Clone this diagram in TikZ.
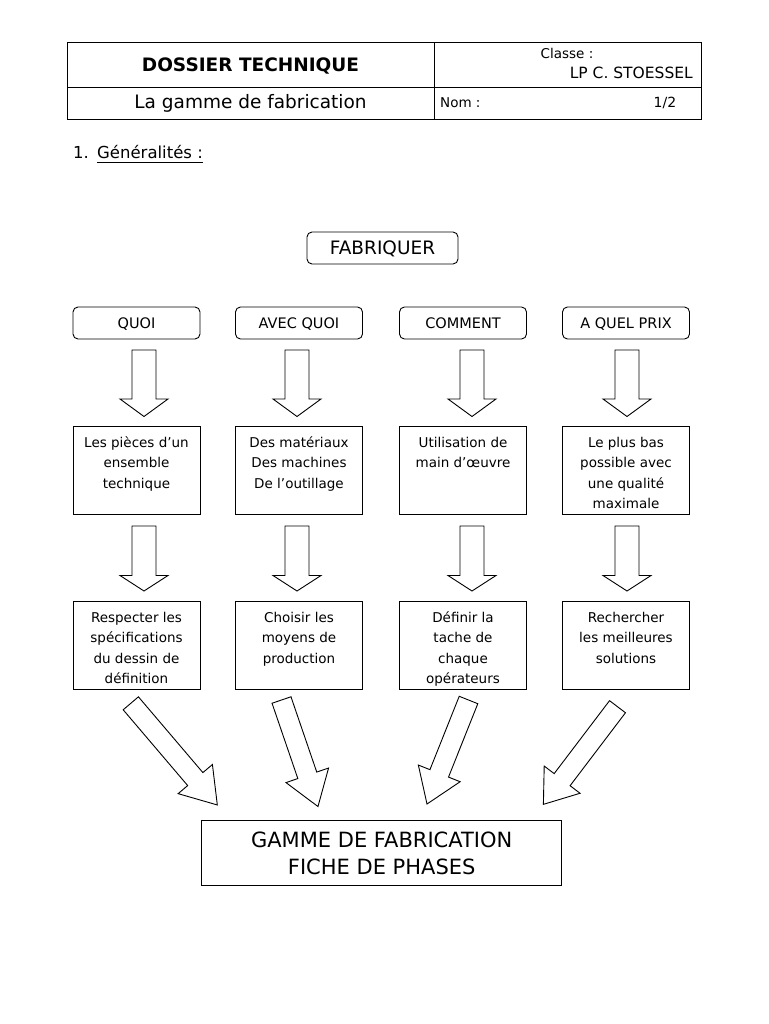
\documentclass[tikz,border=0pt]{standalone}
\usepackage{fontspec}
\setmainfont{DejaVu Sans}
\begin{document}
\begin{tikzpicture}[x=1pt,y=-1pt,
  box/.style={draw, line width=0.9pt, minimum width=127pt, inner sep=0pt},
  rbox/.style={box, rounded corners=5pt, minimum height=32pt, text height=10.5pt, text depth=0pt, font=\fontsize{14.5}{17}\selectfont},
  tbox/.style={box, minimum height=88pt},
  lbl/.style={inner sep=0pt, align=center, font=\fontsize{13.5}{20.5}\selectfont},
  hdr/.style={inner sep=0pt},
  bigarrow/.style={draw, fill=white, line width=0.9pt, line join=miter},
  pics/barrow/.style n args={4}{code={%
    \draw[bigarrow] (0pt,-#2) -- ({#1-#4},-#2) -- ({#1-#4},-#3) -- (#1,0pt)
      -- ({#1-#4},#3) -- ({#1-#4},#2) -- (0pt,#2) -- cycle;}}
]
\fill[white] (0,0) rectangle (768,1024);
\useasboundingbox (0,0) rectangle (768,1024);

% header table
\draw[line width=1pt] (67,43) rectangle (701,120);
\draw[line width=1pt] (67,88) -- (701,88);
\draw[line width=1pt] (434,43) -- (434,120);
\node[hdr, anchor=base, font=\bfseries\fontsize{18.5}{22}\selectfont] (dt) at (250.5,71.5) {DOSSIER TECHNIQUE};
\node[hdr, anchor=base, font=\fontsize{18.5}{22}\selectfont] (gf) at (250.5,109) {La gamme de fabrication};
\node[hdr, anchor=base, font=\fontsize{13.5}{15}\selectfont] (cl) at (567,59) {Classe :};
\node[hdr, anchor=base east, font=\fontsize{15.5}{17}\selectfont] (lp) at (693,79) {LP C. STOESSEL};
\node[hdr, anchor=base west, font=\fontsize{13.5}{15}\selectfont] (nom) at (440,108) {Nom :};
\node[hdr, anchor=base, font=\fontsize{14}{16}\selectfont] (pg) at (665,108) {1/2};

% section title
\node[hdr, anchor=base west, font=\fontsize{16.5}{19}\selectfont] (num) at (73,159) {1.};
\node[hdr, anchor=base west, font=\fontsize{16.5}{19}\selectfont] (gen) at (97,159) {Généralités :};
\draw[line width=0.9pt] ([yshift=-3.5pt]gen.base west) -- ([yshift=-3.5pt]gen.base east);

% FABRIQUER
\node[box, rounded corners=5pt, minimum width=151pt, minimum height=32pt, text height=13pt, text depth=0pt, font=\fontsize{18.5}{21}\selectfont] (fab) at (382.5,248) {FABRIQUER};

% row 1
\node[rbox] (q1) at (136.5,323) {QUOI};
\node[rbox] (q2) at (299,323) {AVEC QUOI};
\node[rbox] (q3) at (463,323) {COMMENT};
\node[rbox] (q4) at (626,323) {A QUEL PRIX};

% row 2
\node[tbox] (r1) at (136.5,470) {};
\node[tbox] (r2) at (299,470) {};
\node[tbox] (r3) at (463,470) {};
\node[tbox] (r4) at (626,470) {};
\node[lbl, anchor=north] (r1t) at ([yshift=-7pt]r1.north) {\strut Les pièces d’un\\ensemble\\technique};
\node[lbl, anchor=north] (r2t) at ([yshift=-7pt]r2.north) {\strut Des matériaux\\Des machines\\De l’outillage};
\node[lbl, anchor=north] (r3t) at ([yshift=-7pt]r3.north) {\strut Utilisation de\\main d’œuvre};
\node[lbl, anchor=north] (r4t) at ([yshift=-7pt]r4.north) {\strut Le plus bas\\possible avec\\une qualité\\maximale};

% row 3
\node[tbox] (s1) at (136.5,645) {};
\node[tbox] (s2) at (299,645) {};
\node[tbox] (s3) at (463,645) {};
\node[tbox] (s4) at (626,645) {};
\node[lbl, anchor=north] (s1t) at ([yshift=-7pt]s1.north) {\strut Respecter les\\spécifications\\du dessin de\\définition};
\node[lbl, anchor=north] (s2t) at ([yshift=-7pt]s2.north) {\strut Choisir les\\moyens de\\production};
\node[lbl, anchor=north] (s3t) at ([yshift=-7pt]s3.north) {\strut Définir la\\tache de\\chaque\\opérateurs};
\node[lbl, anchor=north] (s4t) at ([yshift=-7pt]s4.north) {\strut Rechercher\\les meilleures\\solutions};

% final box
\node[box, minimum width=360pt, minimum height=65pt, align=center, font=\fontsize{21}{27}\selectfont] (gm) at (381.7,853.3) {GAMME DE FABRICATION\\FICHE DE PHASES};

% vertical block arrows
\pic[rotate=-90] at (144,350) {barrow={66.5pt}{12pt}{24pt}{17.5pt}};
\pic[rotate=-90] at (297,350) {barrow={66.5pt}{12pt}{24pt}{17.5pt}};
\pic[rotate=-90] at (472,350) {barrow={66.5pt}{12pt}{24pt}{17.5pt}};
\pic[rotate=-90] at (627,350) {barrow={66.5pt}{12pt}{24pt}{17.5pt}};
\pic[rotate=-90] at (144,526) {barrow={65pt}{12pt}{24pt}{15.5pt}};
\pic[rotate=-90] at (297,526) {barrow={65pt}{12pt}{24pt}{15.5pt}};
\pic[rotate=-90] at (472,526) {barrow={65pt}{12pt}{24pt}{15.5pt}};
\pic[rotate=-90] at (627,526) {barrow={65pt}{12pt}{24pt}{15.5pt}};

% diagonal block arrows
\pic[rotate=-49.6] at (130.8,703.3) {barrow={133.5pt}{10pt}{22.5pt}{34pt}};
\pic[rotate=-71.1] at (281.5,700) {barrow={112.6pt}{10pt}{22.5pt}{33pt}};
\pic[rotate=-111.75] at (468.5,700) {barrow={112pt}{10pt}{22.5pt}{33pt}};
\pic[rotate=-127.2] at (617.5,706.7) {barrow={122.6pt}{10pt}{22.5pt}{31pt}};
\end{tikzpicture}
\end{document}
